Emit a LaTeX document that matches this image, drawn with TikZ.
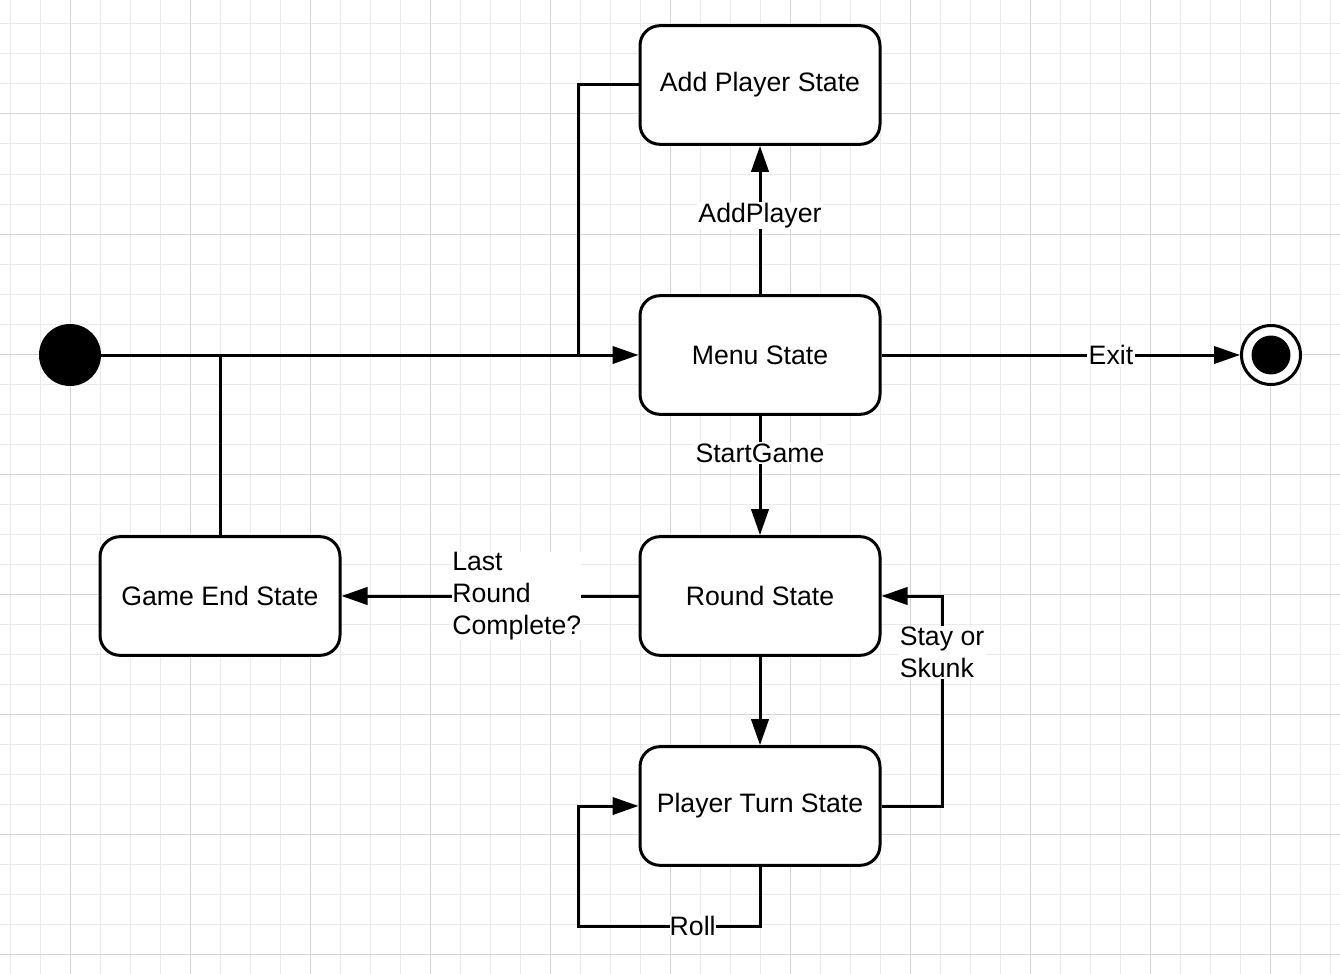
\documentclass[tikz,border=0pt]{standalone}
\usepackage{fontspec}
\setmainfont{Liberation Sans}
\usetikzlibrary{arrows.meta}
\definecolor{gridminor}{HTML}{EAEAEA}
\definecolor{gridmajor}{HTML}{D6D6D6}
\begin{document}
\begin{tikzpicture}[x=0.75pt,y=-0.75pt,
  state/.style={draw, line width=2.25pt, rounded corners=15pt, minimum width=180pt, minimum height=89pt, fill=white, inner sep=0pt, font=\fontsize{20}{24}\selectfont},
  conn/.style={line width=2.25pt, -{Triangle[length=19.5pt,width=13pt]}},
  plainline/.style={line width=2.25pt},
  lbl/.style={fill=white, inner sep=1pt, font=\fontsize{20}{24}\selectfont}]
\useasboundingbox (0,0) rectangle (1340,974);
% grid
\foreach \x in {10,40,...,1330} \draw[gridminor, line width=0.75pt] (\x,0) -- (\x,974);
\foreach \y in {24,54,...,970} \draw[gridminor, line width=0.75pt] (0,\y) -- (1340,\y);
\foreach \x in {70,190,...,1330} \draw[gridmajor, line width=0.75pt] (\x,0) -- (\x,974);
\foreach \y in {114,234,...,970} \draw[gridmajor, line width=0.75pt] (0,\y) -- (1340,\y);
% nodes
\node[circle, fill=black, minimum size=46.5pt, inner sep=0pt] (init) at (70,355) {};
\node[circle, draw, line width=2.25pt, fill=white, minimum size=44.25pt, inner sep=0pt] (final) at (1271,355) {};
\fill (final.center) circle[radius=14.6pt];
\node[state] (add) at (760,85) {Add Player State};
\node[state] (menu) at (760,355) {Menu State};
\node[state] (round) at (760,596) {Round State};
\node[state] (turn) at (760,806) {Player Turn State};
\node[state] (gend) at (220,596) {Game End State};
% helper coordinates
\coordinate (j1) at (220,355);
\coordinate (j2) at (578,355);
\coordinate (a1) at (578,85);
\coordinate (s1) at (942,806);
\coordinate (s2) at (942,596);
\coordinate (r1) at (760,926);
\coordinate (r2) at (578,926);
\coordinate (r3) at (578,806);
% connectors
\draw[conn] (init) -- (menu);
\draw[plainline] (gend.north) -- (j1);
\draw[plainline] (add.west) -- (a1) -- (j2);
\draw[conn] (menu.north) -- node[lbl, pos=0.53] {AddPlayer} (add.south);
\draw[conn] (menu.east) -- node[lbl, pos=0.64] {Exit} (final.west);
\draw[conn] (menu.south) -- node[lbl, pos=0.31] {StartGame} (round.north);
\draw[conn] (round.west) -- node[lbl, pos=0.41, align=left, inner sep=0pt] {Last\\Round\\Complete?} (gend.east);
\draw[conn] (round.south) -- (turn.north);
\draw[conn] (turn.east) -- (s1) -- node[lbl, pos=0.73, align=left] {Stay or\\Skunk} (s2) -- (round.east);
\draw[conn] (turn.south) -- (r1) -- node[lbl, pos=0.37, inner sep=0pt] {Roll} (r2) -- (r3) -- (turn.west);
\end{tikzpicture}
\end{document}
